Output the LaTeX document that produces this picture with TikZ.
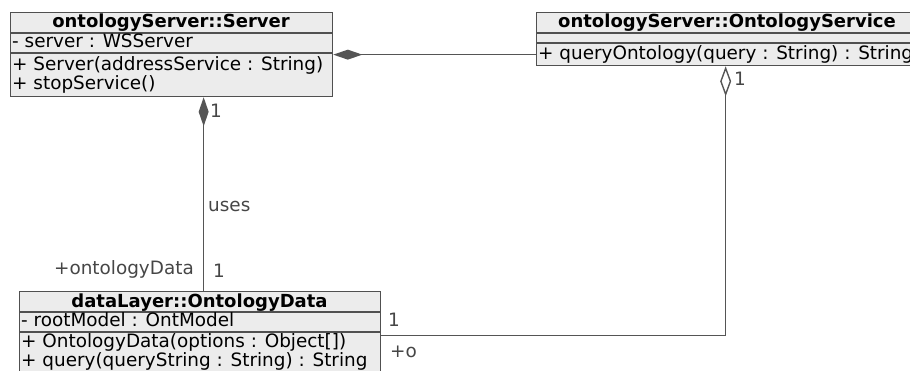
\documentclass[tikz,border=0pt]{standalone}
\usepackage{fontspec}
\setmainfont{DejaVu Sans}
\usepackage{tikz}
\usetikzlibrary{arrows.meta,calc}
\definecolor{boxfill}{RGB}{236,236,236}
\definecolor{boxline}{RGB}{80,80,80}
\definecolor{linkgray}{RGB}{85,85,85}
\definecolor{labelgray}{RGB}{70,70,70}

\begin{document}
\begin{tikzpicture}[x=1pt, y=-1pt, font=\fontsize{18.4}{21}\selectfont,
    classbox/.style={draw=boxline, fill=boxfill, line width=1.3pt, anchor=north west, inner sep=0pt},
    divider/.style={draw=boxline, line width=1.3pt},
    member/.style={anchor=base west, inner sep=0pt},
    classname/.style={anchor=base, inner sep=0pt, font=\fontsize{18}{21}\selectfont\bfseries},
    link/.style={draw=linkgray, line width=1.4pt},
    mult/.style={anchor=base west, inner sep=0pt, text=labelgray}]
    \useasboundingbox (0,0) rectangle (910,371);
    \clip (0,0) rectangle (910,371);

    % class ontologyServer::Server
    \node[classbox, minimum width=322pt, minimum height=84pt] (server) at (10,12) {};
    \draw[divider] ($(server.north west)+(0,21)$) -- ($(server.north east)+(0,21)$);
    \draw[divider] ($(server.north west)+(0,41)$) -- ($(server.north east)+(0,41)$);
    \node[classname] (serverName) at (171,28) {ontologyServer::Server};
    \node[member] (serverAttr) at (12,48) {- server : WSServer};
    \node[member] (serverOp1) at (12,71) {+ Server(addressService : String)};
    \node[member] (serverOp2) at (12,90) {+ stopService()};

    % class ontologyServer::OntologyService
    \node[classbox, minimum width=378pt, minimum height=53pt] (service) at (536,12) {};
    \draw[divider] ($(service.north west)+(0,21)$) -- ($(service.north east)+(0,21)$);
    \draw[divider] ($(service.north west)+(0,31)$) -- ($(service.north east)+(0,31)$);
    \node[classname] (serviceName) at (727,28) {ontologyServer::OntologyService};
    \node[member] (serviceOp1) at (538,60) {+ queryOntology(query : String) : String};

    % class dataLayer::OntologyData
    \node[classbox, minimum width=361pt, minimum height=88pt] (data) at (19,291) {};
    \draw[divider] ($(data.north west)+(0,21)$) -- ($(data.north east)+(0,21)$);
    \draw[divider] ($(data.north west)+(0,41)$) -- ($(data.north east)+(0,41)$);
    \node[classname] (dataName) at (199.5,307) {dataLayer::OntologyData};
    \node[member] (dataAttr) at (21,326) {- rootModel : OntModel};
    \node[member] (dataOp1) at (21,347) {+ OntologyData(options : Object[])};
    \node[member] (dataOp2) at (21,366) {+ query(queryString : String) : String};

    % associations
    \draw[link, {Diamond[length=29pt, width=10pt]}-] (server.east) -- (server.east -| service.west);
    \draw[link, {Diamond[length=29pt, width=10pt]}-] ([xshift=32pt]server.south) -- ([xshift=32pt]server.south |- data.north);
    \draw[link, {Diamond[open, length=30pt, width=11pt]}-] (service.south) |- (data.east);

    % roles and multiplicities
    \node[mult] (m1) at (210,118) {1};
    \node[mult] (uses) at (208,212) {uses};
    \node[mult, anchor=base east] (roleData) at (194,275) {+ontologyData};
    \node[mult] (m2) at (213,278) {1};
    \node[mult] (m3) at (734,86) {1};
    \node[mult] (m4) at (388,326) {1};
    \node[mult] (roleO) at (390,357) {+o};
\end{tikzpicture}
\end{document}
